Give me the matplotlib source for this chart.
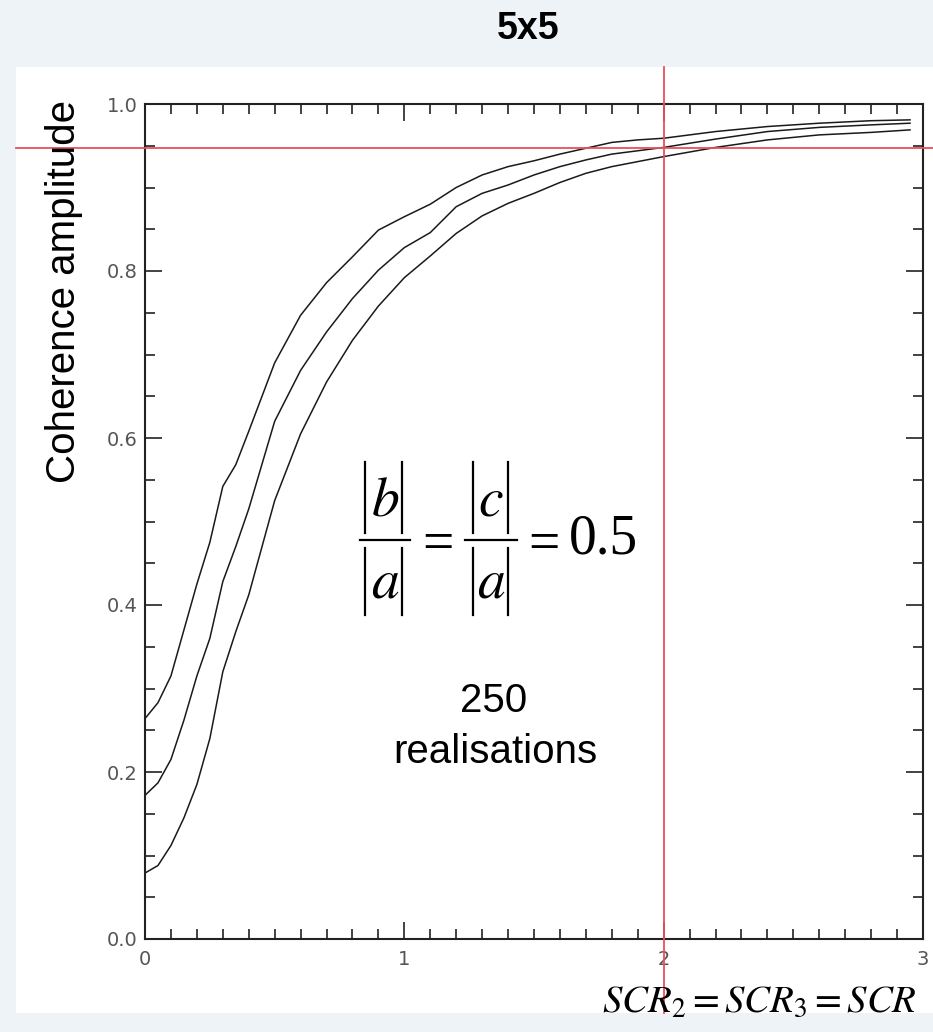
import matplotlib
matplotlib.use("Agg")
import matplotlib.pyplot as plt
from matplotlib.lines import Line2D
from matplotlib.patches import Rectangle
from matplotlib.ticker import MultipleLocator

# values (x = SCR, y = coherence amplitude)
scr = [0.0, 0.05, 0.1, 0.15, 0.2, 0.25, 0.3, 0.35, 0.4, 0.5, 0.6, 0.7, 0.8, 0.9,
       1.0, 1.1, 1.2, 1.3, 1.4, 1.5, 1.6, 1.7, 1.8, 1.9, 2.0, 2.2, 2.4, 2.6, 2.8, 2.95]
upper = [0.264, 0.283, 0.315, 0.370, 0.425, 0.475, 0.542, 0.568, 0.608, 0.690, 0.747,
         0.786, 0.817, 0.849, 0.865, 0.880, 0.900, 0.915, 0.925, 0.932, 0.940, 0.947,
         0.954, 0.957, 0.959, 0.967, 0.973, 0.977, 0.980, 0.981]
middle = [0.172, 0.187, 0.215, 0.262, 0.315, 0.360, 0.428, 0.470, 0.515, 0.620, 0.681,
          0.727, 0.767, 0.801, 0.828, 0.846, 0.877, 0.893, 0.903, 0.915, 0.925, 0.933,
          0.940, 0.944, 0.948, 0.958, 0.967, 0.972, 0.975, 0.977]
lower = [0.079, 0.088, 0.112, 0.145, 0.185, 0.240, 0.320, 0.368, 0.412, 0.525, 0.605,
         0.667, 0.717, 0.758, 0.792, 0.818, 0.845, 0.866, 0.881, 0.893, 0.906, 0.917,
         0.925, 0.931, 0.937, 0.948, 0.957, 0.963, 0.966, 0.969]

x_ticks = [0, 1, 2, 3]
y_ticks = [0.0, 0.2, 0.4, 0.6, 0.8, 1.0]
y_tick_labels = ["0.0", "0.2", "0.4", "0.6", "0.8", "1.0"]

# red cross-hair
cursor_x = 2.0
cursor_y = 0.947

W, H = 933, 1032
plt.rcParams["font.family"] = ["Liberation Sans", "DejaVu Sans"]
plt.rcParams["mathtext.fontset"] = "stix"

fig = plt.figure(figsize=(W / 100, H / 100), dpi=100, facecolor="#eef3f8")


def fx(px):
    return px / W


def fy(py):
    return 1 - py / H


def fig_line(x0, y0, x1, y1, lw=1.6):
    fig.add_artist(Line2D([fx(x0), fx(x1)], [fy(y0), fy(y1)], color="black",
                          lw=lw, transform=fig.transFigure, zorder=3))


# white panel behind the plot
fig.patches.append(Rectangle((fx(16), fy(1013)), fx(933) - fx(16), fy(67) - fy(1013),
                             transform=fig.transFigure, facecolor="white",
                             edgecolor="none", zorder=-1))

ax = fig.add_axes([fx(145), fy(939), fx(923) - fx(145), fy(104) - fy(939)])
ax.set_facecolor("white")
ax.set_zorder(1)

for curve in (upper, middle, lower):
    ax.plot(scr, curve, color="#1a1a1a", lw=1.1)

ax.set_xlim(0, 3)
ax.set_ylim(0, 1)
ax.set_xticks(x_ticks)
ax.set_xticklabels([str(t) for t in x_ticks])
ax.set_yticks(y_ticks)
ax.set_yticklabels(y_tick_labels)
ax.xaxis.set_minor_locator(MultipleLocator(0.1))
ax.yaxis.set_minor_locator(MultipleLocator(0.05))
ax.tick_params(which="both", direction="in", top=True, right=True,
               color="#222222", width=1.2, labelsize=14, labelcolor="#555555")
ax.tick_params(which="major", length=12)
ax.tick_params(which="minor", length=7)
ax.tick_params(axis="y", pad=5.5)
ax.tick_params(axis="x", pad=8)
for lab in ax.get_xticklabels() + ax.get_yticklabels():
    lab.set_family("DejaVu Sans")
for sp in ax.spines.values():
    sp.set_linewidth(1.5)
    sp.set_color("#222222")

# cross-hair lines, reaching past the axes onto the white panel
red = "#e9505c"
ax.plot([cursor_x, cursor_x], [-0.0886, 1.0443], color=red, lw=1.3,
        transform=ax.get_xaxis_transform(), clip_on=False, zorder=5)
ax.plot([-0.1658, 1.0129], [cursor_y, cursor_y], color=red, lw=1.3,
        transform=ax.get_yaxis_transform(), clip_on=False, zorder=5)

# texts
fig.text(fx(528), fy(29), "5x5", ha="center", va="center", fontsize=27,
         fontweight="bold")
fig.text(fx(64), fy(291), "Coherence amplitude", rotation=90, ha="center",
         va="center", fontsize=29)

# |b|/|a| = |c|/|a| = 0.5, set piece by piece (tall bars like the original)
for letter, xc, base in (("b", 385, 515), ("a", 385, 597),
                         ("c", 491, 515), ("a", 491, 597)):
    fig.text(fx(xc), fy(base), "$" + letter + "$", ha="center", va="baseline",
             fontsize=40, zorder=3)
for xl, xr, rule_l, rule_r in ((365, 402, 360, 410), (473, 508, 465, 517)):
    for xb in (xl, xr):
        fig_line(xb, 462, xb, 533)
        fig_line(xb, 548, xb, 615)
    fig_line(rule_l, 540, rule_r, 540)
fig.text(fx(438), fy(540), "=", family="Liberation Serif", ha="center",
         va="center_baseline", fontsize=40, zorder=3)
fig.text(fx(544), fy(540), "=", family="Liberation Serif", ha="center",
         va="center_baseline", fontsize=40, zorder=3)
fig.text(fx(569), fy(553), "0.5", family="Liberation Serif", ha="left",
         va="baseline", fontsize=40, zorder=3)

fig.text(fx(494), fy(712), "250", ha="center", va="baseline", fontsize=29, zorder=3)
fig.text(fx(495), fy(763), "realisations", ha="center", va="baseline", fontsize=29,
         zorder=3)
fig.text(fx(917), fy(1012), r"$SCR_2 = SCR_3 = SCR$", ha="right", va="baseline",
         fontsize=28, zorder=3)

fig.savefig("out.png", dpi=100, facecolor=fig.get_facecolor())
plt.close(fig)
